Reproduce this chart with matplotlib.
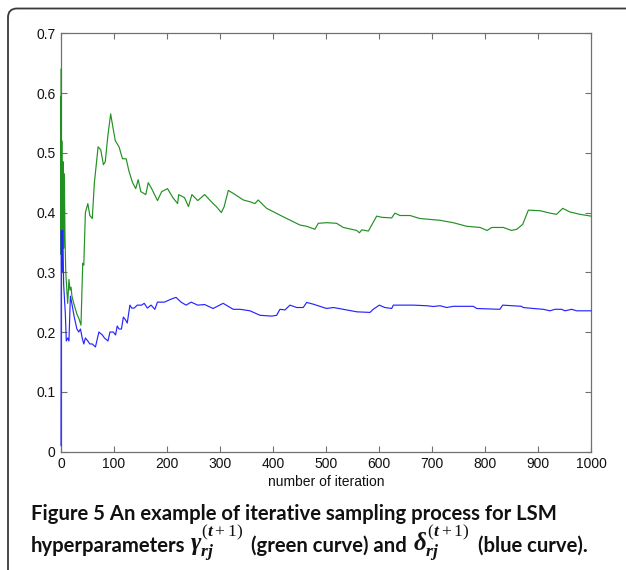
import matplotlib
matplotlib.use("Agg")
import matplotlib.pyplot as plt
from matplotlib.path import Path
from matplotlib.patches import PathPatch

# ---- data ----
green_iter = [0, 0, 0.5, 1, 1.5, 2, 3, 4, 5, 6.3, 7.5, 9, 11, 12.6, 15, 17, 19, 20.6, 25, 30, 34, 37.7,
              41, 43, 46, 50.6, 54.4, 59, 63, 70, 75, 80, 83.5, 88.6, 93.7, 97.5, 102.5, 109.5, 116,
              123, 128, 135, 141, 145.6, 150.6, 160, 164.6, 171, 182, 190, 201, 211, 220, 222, 233,
              240.5, 247, 258, 271, 287, 293, 302.5, 307.5, 315.7, 325, 344, 356.6, 366, 372, 388,
              419, 451, 463.5, 479, 485.5, 501, 520, 532.7, 558, 563, 567.6, 580, 595.6, 605, 624,
              630, 639.6, 658.5, 677, 702.5, 715, 740, 765.5, 790.6, 804, 812.6, 834.6, 850, 860,
              871, 881.8, 904, 922.6, 935, 946.6, 960, 979, 1000]
green_vals = [0.64, 0.33, 0.595, 0.31, 0.52, 0.35, 0.31, 0.485, 0.34, 0.465, 0.36, 0.30, 0.27, 0.248,
              0.288, 0.27, 0.275, 0.26, 0.245, 0.23, 0.222, 0.2115,
              0.315, 0.312, 0.40, 0.415, 0.395, 0.39, 0.45, 0.51, 0.505, 0.48, 0.485, 0.53, 0.565,
              0.545, 0.52, 0.51, 0.49, 0.49, 0.47, 0.45, 0.44, 0.455, 0.435, 0.43, 0.45, 0.44, 0.42,
              0.435, 0.44, 0.425, 0.415, 0.43, 0.425, 0.41, 0.43, 0.42, 0.43, 0.415, 0.41, 0.40,
              0.409, 0.437, 0.432, 0.421, 0.418, 0.415, 0.421, 0.407, 0.393, 0.379, 0.377, 0.372,
              0.382, 0.383, 0.382, 0.375, 0.370, 0.366, 0.371, 0.369, 0.394, 0.392, 0.391, 0.399,
              0.395, 0.395, 0.390, 0.388, 0.387, 0.383, 0.377, 0.375, 0.370, 0.375, 0.375, 0.370,
              0.372, 0.380, 0.404, 0.403, 0.399, 0.397, 0.407, 0.401, 0.397, 0.394]

blue_iter = [0, 0.6, 1.5, 2, 3.2, 5, 8.2, 10, 12.7, 15, 17.7, 20, 25, 30, 33.5, 36.7, 40, 43, 46, 50.6,
             54.4, 59, 65, 71.5, 78, 82, 88.6, 92.4, 98.7, 103, 106, 109.5, 114, 117.7, 122, 125,
             130, 133.5, 138, 144, 152, 157, 163, 170, 177, 182, 195, 207.6, 217, 226.6, 236, 245.6,
             258, 271, 287, 306, 325, 338, 356.6, 375.5, 397.5, 407, 413, 422.6, 432, 444.6, 457,
             463.5, 476, 501, 514, 532.7, 558, 583, 589, 600.6, 611, 624, 627, 664.7, 690, 702.5,
             715, 727.7, 740, 778, 784.3, 828, 833.3, 869, 872, 891, 910, 922.6, 932, 944.6, 951,
             963.5, 973, 1000]
blue_vals = [0.01, 0.37, 0.30, 0.36, 0.37, 0.28, 0.23, 0.185, 0.19, 0.185, 0.26, 0.25, 0.225, 0.205,
             0.20, 0.205, 0.19, 0.18, 0.19, 0.185, 0.18, 0.18, 0.175, 0.20, 0.195, 0.19, 0.185, 0.20,
             0.20, 0.195, 0.21, 0.205, 0.205, 0.225, 0.22, 0.215, 0.245, 0.24, 0.24, 0.245, 0.245,
             0.248, 0.24, 0.245, 0.238, 0.25, 0.25, 0.255, 0.258, 0.25, 0.245, 0.25, 0.245, 0.246,
             0.2394, 0.248, 0.238, 0.238, 0.2355, 0.228, 0.2266, 0.228, 0.238, 0.237, 0.245, 0.241,
             0.241, 0.2495, 0.2466, 0.2394, 0.241, 0.238, 0.2338, 0.2328, 0.238, 0.245, 0.241,
             0.2394, 0.245, 0.245, 0.244, 0.2427, 0.244, 0.241, 0.243, 0.243, 0.2394, 0.238, 0.245,
             0.243, 0.241, 0.2394, 0.238, 0.2355, 0.238, 0.238, 0.2355, 0.238, 0.2355, 0.2355]

x_ticks = [0, 100, 200, 300, 400, 500, 600, 700, 800, 900, 1000]
y_ticks = [0, 0.1, 0.2, 0.3, 0.4, 0.5, 0.6, 0.7]
y_ticklabels = ["0", "0.1", "0.2", "0.3", "0.4", "0.5", "0.6", "0.7"]
x_label = "number of iteration"
caption_1 = "Figure 5 An example of iterative sampling process for LSM"
caption_2_parts = ["hyperparameters", r"$\gamma_{rj}^{(t+1)}$", "(green curve) and",
                   r"$\delta_{rj}^{(t+1)}$", "(blue curve)."]
caption_2_is_math = [False, True, False, True, False]

plt.rcParams['mathtext.fontset'] = 'custom'
plt.rcParams['mathtext.it'] = 'Liberation Serif:italic:bold'
plt.rcParams['mathtext.rm'] = 'Liberation Serif'
plt.rcParams['mathtext.bf'] = 'Liberation Serif:bold'

W, H = 626, 570
fig = plt.figure(figsize=(W / 100, H / 100), dpi=100)
fig.patch.set_facecolor('white')

ax = fig.add_axes([61 / W, 1 - 451.5 / H, 530 / W, 418.2 / H])
ax.plot(green_iter, green_vals, color='#229022', lw=0.85, zorder=3, clip_on=False)
ax.plot(blue_iter, blue_vals, color='#2525ff', lw=0.85, zorder=3, clip_on=False)
ax.set_xlim(0, 1000)
ax.set_ylim(0, 0.7)
ax.set_xticks(x_ticks)
ax.set_xticklabels([str(t) for t in x_ticks])
ax.set_yticks(y_ticks)
ax.set_yticklabels(y_ticklabels)
ax.tick_params(direction='in', length=4, width=0.8, color='#707070', labelsize=10,
               labelcolor='#111111', top=True, right=True, pad=4)
for lab in ax.get_xticklabels() + ax.get_yticklabels():
    lab.set_fontfamily('Liberation Sans')
for s in ax.spines.values():
    s.set_color('#707070')
    s.set_linewidth(0.9)
    s.set_zorder(2)
ax.set_xlabel(x_label, fontsize=10, fontfamily='Liberation Sans', color='#111111', labelpad=3)

# figure frame (rounded top-left corner)
r = 9
x0, y0 = 8 / W, 1 - 8.5 / H
verts = [(x0, 0), (x0, y0 - r / H), (x0, y0), (x0 + r / W, y0), (1.0, y0)]
codes = [Path.MOVETO, Path.LINETO, Path.CURVE3, Path.CURVE3, Path.LINETO]
fig.patches.append(PathPatch(Path(verts, codes), transform=fig.transFigure,
                             fill=False, edgecolor='#3a3a3a', lw=1.3))

cap_fs = 14.6
math_fs = 18
fig.text(31 / W, 1 - 520 / H, caption_1, fontsize=cap_fs, fontweight='bold',
         fontfamily='Lato', va='baseline', ha='left', color='#111111')

fig.canvas.draw()
renderer = fig.canvas.get_renderer()
xpos = 31.0
gaps = [4, 8, 7, 8, 0]
for part, is_math, gap in zip(caption_2_parts, caption_2_is_math, gaps):
    t = fig.text(xpos / W, 1 - 552 / H, part, fontsize=math_fs if is_math else cap_fs,
                 fontweight='bold', fontfamily='Lato', va='baseline', ha='left',
                 color='#111111')
    bb = t.get_window_extent(renderer=renderer)
    xpos = bb.x1 + gap

fig.savefig('out.png', dpi=100)
